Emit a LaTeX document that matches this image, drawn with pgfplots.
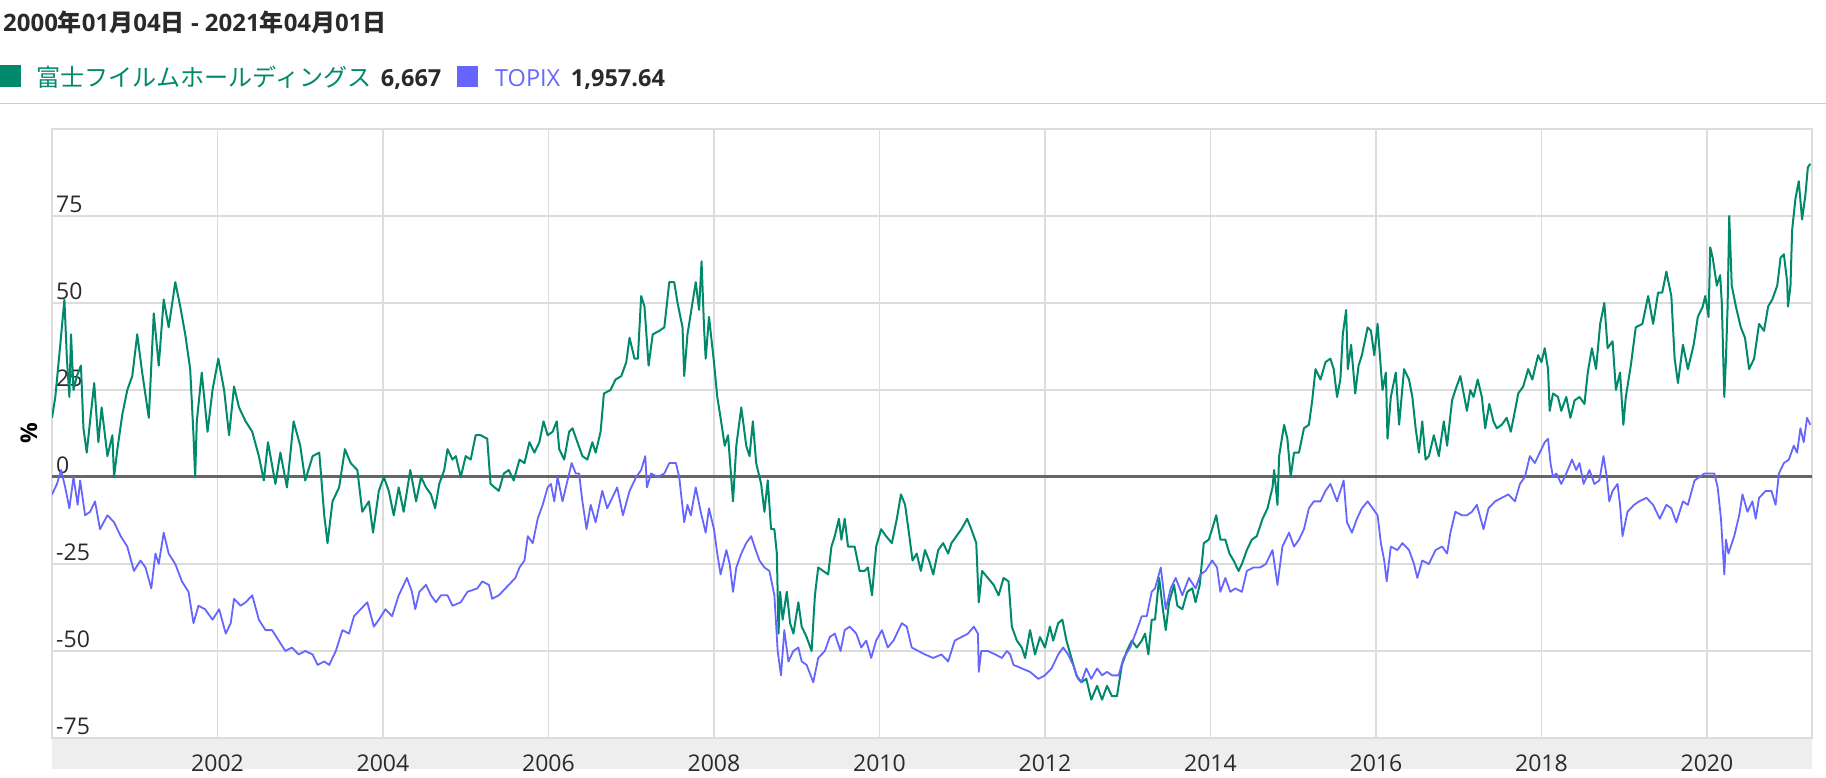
\documentclass[border=0pt]{standalone}
\usepackage{fontspec}
\setmainfont{Open Sans}
\newfontfamily\cjk{Noto Sans CJK JP}
\usepackage{pgfplots}
\pgfplotsset{compat=1.18}
\definecolor{fgreen}{HTML}{00896B}
\definecolor{tblue}{HTML}{6666FF}
\definecolor{gridc}{HTML}{DCDCDC}
\definecolor{zeroc}{HTML}{666666}
\definecolor{bandc}{HTML}{EEEEEE}
\definecolor{txt}{HTML}{2A2A2A}
\definecolor{sepc}{HTML}{CCCCCC}
\begin{document}
\begin{tikzpicture}
\useasboundingbox (0pt,0pt) rectangle (1826pt,777pt);
% title
\node[anchor=base west, inner sep=0pt, text=txt, font=\fontsize{24}{28}\selectfont\bfseries] at (3pt,745pt) {2000{\cjk\bfseries 年}01{\cjk\bfseries 月}04{\cjk\bfseries 日} - 2021{\cjk\bfseries 年}04{\cjk\bfseries 月}01{\cjk\bfseries 日}};
% legend
\fill[fgreen] (0pt,690pt) rectangle (21pt,712pt);
\node[anchor=base west, inner sep=0pt, text=fgreen, font=\fontsize{24.1}{28}\cjk] at (36pt,690.3pt) {富士フイルムホールディングス};
\node[anchor=base west, inner sep=0pt, text=txt, font=\fontsize{23.5}{28}\selectfont\bfseries] at (380.7pt,690.3pt) {6,667};
\fill[tblue] (456.7pt,689.7pt) rectangle (478.3pt,711.3pt);
\node[anchor=base west, inner sep=0pt, text=tblue, font=\fontsize{23.5}{28}\selectfont] at (495pt,690.3pt) {TOPIX};
\node[anchor=base west, inner sep=0pt, text=txt, font=\fontsize{23.5}{28}\selectfont\bfseries] at (570.7pt,690.3pt) {1,957.64};
\draw[sepc, line width=1.5pt] (0pt,673.7pt) -- (1826pt,673.7pt);
% band
\fill[bandc] (52pt,8pt) rectangle (1812pt,39pt);
% y label
\node[rotate=90, inner sep=0pt, text=black, font=\fontsize{23}{27}\selectfont\bfseries] at (29pt,344pt) {\%};
\begin{axis}[
  at={(52pt,39pt)}, anchor=south west, scale only axis,
  width=1760pt, height=609pt,
  xmin=2000, xmax=2021.27, ymin=-75, ymax=100,
  axis line style={gridc, line width=1.5pt},
  major tick length=0pt,
  grid=major,
  major grid style={gridc, line width=1.5pt},
  xtick={2002,2004,2006,2008,2010,2012,2014,2016,2018,2020},
  xticklabels={2002,2004,2006,2008,2010,2012,2014,2016,2018,2020},
  ytick={-75,-50,-25,0,25,50,75},
  yticklabels={-75,-50,-25,0,25,50,75},
  extra y ticks={0},
  extra y tick labels={},
  extra y tick style={grid=major, major grid style={zeroc, line width=3pt}},
  xticklabel style={anchor=base, inner sep=0pt, yshift=-33.7pt, font=\fontsize{23}{27}\selectfont, text=txt},
  yticklabel style={anchor=base west, inner sep=0pt, xshift=4pt, yshift=3.5pt, font=\fontsize{23}{27}\selectfont, text=txt},
]
\addplot[fgreen, line width=2pt, line join=round] coordinates {
(2000.00,17) (2000.04,23) (2000.10,38) (2000.15,51) (2000.18,34) (2000.21,23) (2000.23,41) (2000.26,25) (2000.30,29) (2000.35,32)
(2000.38,14) (2000.42,7) (2000.46,16) (2000.51,27) (2000.56,10) (2000.60,20) (2000.67,6) (2000.73,12) (2000.75,0) (2000.79,8)
(2000.85,18) (2000.91,25) (2000.97,29) (2001.03,41) (2001.09,30) (2001.17,17) (2001.23,47) (2001.29,32) (2001.35,51) (2001.41,43)
(2001.49,56) (2001.55,49) (2001.61,41) (2001.67,31) (2001.71,12) (2001.73,0) (2001.75,16) (2001.81,30) (2001.88,13) (2001.94,25)
(2002.01,34) (2002.08,25) (2002.14,12) (2002.20,26) (2002.26,20) (2002.34,16) (2002.42,13) (2002.50,6) (2002.56,-1) (2002.61,10)
(2002.70,-2) (2002.76,7) (2002.84,-3) (2002.92,16) (2003.00,9) (2003.06,-1) (2003.15,6) (2003.23,7) (2003.29,-11) (2003.33,-19)
(2003.39,-7) (2003.47,-3) (2003.54,8) (2003.61,4) (2003.69,2) (2003.75,-10) (2003.83,-7) (2003.88,-16) (2003.95,-4) (2004.01,0)
(2004.07,-4) (2004.13,-11) (2004.19,-3) (2004.25,-10) (2004.33,2) (2004.40,-7) (2004.46,0) (2004.52,-3) (2004.58,-5) (2004.63,-9)
(2004.68,-2) (2004.74,2) (2004.78,8) (2004.84,5) (2004.88,6) (2004.94,0) (2005.00,6) (2005.06,5) (2005.12,12) (2005.18,12)
(2005.26,11) (2005.30,-2) (2005.40,-4) (2005.46,1) (2005.52,2) (2005.58,-1) (2005.65,5) (2005.71,4) (2005.77,10) (2005.83,7)
(2005.89,10) (2005.94,16) (2005.99,12) (2006.05,13) (2006.10,16) (2006.13,8) (2006.19,5) (2006.25,13) (2006.29,14) (2006.35,10)
(2006.41,6) (2006.47,5) (2006.53,10) (2006.57,7) (2006.63,13) (2006.67,24) (2006.75,25) (2006.81,28) (2006.88,29) (2006.94,33)
(2006.98,40) (2007.04,34) (2007.08,34) (2007.12,52) (2007.16,49) (2007.21,32) (2007.26,41) (2007.34,42) (2007.40,43) (2007.46,56)
(2007.52,56) (2007.56,50) (2007.62,43) (2007.64,29) (2007.68,41) (2007.74,50) (2007.78,56) (2007.82,48) (2007.85,62) (2007.88,43)
(2007.90,34) (2007.94,46) (2008.00,33) (2008.04,23) (2008.08,17) (2008.13,9) (2008.17,12) (2008.23,-7) (2008.27,9) (2008.33,20)
(2008.39,9) (2008.43,6) (2008.47,16) (2008.51,4) (2008.57,-2) (2008.61,-10) (2008.65,-1) (2008.69,-15) (2008.73,-15) (2008.76,-22)
(2008.78,-45) (2008.80,-33) (2008.83,-41) (2008.88,-33) (2008.92,-42) (2008.96,-45) (2009.02,-36) (2009.06,-43) (2009.12,-46) (2009.18,-50)
(2009.22,-34) (2009.26,-26) (2009.32,-27) (2009.38,-28) (2009.42,-20) (2009.46,-17) (2009.51,-12) (2009.54,-18) (2009.58,-12) (2009.62,-20)
(2009.70,-20) (2009.76,-27) (2009.82,-27) (2009.86,-26) (2009.91,-34) (2009.96,-20) (2010.02,-15) (2010.08,-17) (2010.15,-19) (2010.21,-12)
(2010.26,-5) (2010.31,-8) (2010.35,-15) (2010.40,-24) (2010.45,-22) (2010.50,-27) (2010.55,-21) (2010.60,-24) (2010.65,-28) (2010.71,-21)
(2010.77,-19) (2010.83,-22) (2010.87,-19) (2010.93,-17) (2010.99,-15) (2011.06,-12) (2011.11,-15) (2011.17,-19) (2011.20,-36) (2011.24,-27)
(2011.31,-29) (2011.38,-31) (2011.44,-34) (2011.50,-29) (2011.56,-30) (2011.60,-43) (2011.66,-47) (2011.72,-49) (2011.76,-52) (2011.82,-44)
(2011.88,-51) (2011.94,-46) (2012.00,-49) (2012.06,-43) (2012.10,-47) (2012.16,-42) (2012.21,-41) (2012.26,-47) (2012.32,-52) (2012.38,-57)
(2012.44,-59) (2012.50,-58) (2012.56,-64) (2012.63,-60) (2012.69,-64) (2012.75,-60) (2012.81,-63) (2012.87,-63) (2012.93,-54) (2012.99,-50)
(2013.05,-47) (2013.11,-49) (2013.17,-47) (2013.21,-45) (2013.25,-51) (2013.29,-41) (2013.33,-41) (2013.38,-29) (2013.42,-37) (2013.46,-44)
(2013.50,-36) (2013.56,-31) (2013.60,-37) (2013.66,-38) (2013.72,-33) (2013.78,-32) (2013.82,-36) (2013.87,-31) (2013.92,-19) (2013.98,-18)
(2014.02,-15) (2014.07,-11) (2014.12,-18) (2014.18,-18) (2014.23,-22) (2014.28,-24) (2014.34,-27) (2014.38,-25) (2014.44,-21) (2014.50,-18)
(2014.56,-17) (2014.63,-12) (2014.69,-9) (2014.75,-3) (2014.77,2) (2014.81,-8) (2014.83,6) (2014.89,15) (2014.93,11) (2014.97,0)
(2015.01,7) (2015.07,7) (2015.13,14) (2015.19,15) (2015.23,22) (2015.27,31) (2015.33,28) (2015.39,33) (2015.45,34) (2015.49,31)
(2015.53,23) (2015.57,28) (2015.60,41) (2015.64,48) (2015.66,31) (2015.70,38) (2015.75,24) (2015.79,32) (2015.83,35) (2015.90,43)
(2015.94,42) (2015.98,35) (2016.02,44) (2016.06,31) (2016.08,25) (2016.12,30) (2016.14,11) (2016.18,23) (2016.24,30) (2016.28,15)
(2016.34,31) (2016.40,28) (2016.44,23) (2016.48,14) (2016.52,7) (2016.56,16) (2016.60,5) (2016.64,6) (2016.70,12) (2016.76,6)
(2016.82,16) (2016.86,9) (2016.92,22) (2016.96,25) (2017.02,29) (2017.06,24) (2017.10,19) (2017.14,25) (2017.18,23) (2017.23,28)
(2017.28,23) (2017.32,14) (2017.37,21) (2017.42,16) (2017.46,14) (2017.52,15) (2017.58,17) (2017.63,13) (2017.68,19) (2017.72,24)
(2017.78,26) (2017.84,31) (2017.89,28) (2017.96,35) (2018.00,33) (2018.04,37) (2018.08,31) (2018.10,19) (2018.14,24) (2018.20,23)
(2018.24,19) (2018.30,23) (2018.35,17) (2018.40,22) (2018.46,23) (2018.52,21) (2018.56,30) (2018.61,37) (2018.66,31) (2018.71,44)
(2018.76,50) (2018.80,37) (2018.86,39) (2018.90,25) (2018.95,30) (2018.99,15) (2019.02,23) (2019.08,32) (2019.14,43) (2019.22,44)
(2019.29,52) (2019.35,44) (2019.41,53) (2019.46,53) (2019.51,59) (2019.57,52) (2019.61,34) (2019.65,27) (2019.71,38) (2019.77,31)
(2019.84,38) (2019.89,46) (2019.95,49) (2019.98,52) (2020.02,46) (2020.04,66) (2020.07,63) (2020.12,55) (2020.16,58) (2020.18,50)
(2020.21,23) (2020.23,34) (2020.25,49) (2020.27,75) (2020.30,55) (2020.35,49) (2020.41,43) (2020.46,40) (2020.51,31) (2020.57,34)
(2020.63,44) (2020.69,42) (2020.74,49) (2020.79,51) (2020.85,55) (2020.89,63) (2020.93,64) (2020.97,56) (2020.98,49) (2021.01,55)
(2021.03,71) (2021.07,80) (2021.11,85) (2021.15,74) (2021.19,81) (2021.22,89) (2021.25,90)
};
\addplot[tblue, line width=1.8pt, line join=round] coordinates {
(2000.00,-5) (2000.06,-2) (2000.11,2) (2000.16,-3) (2000.21,-9) (2000.26,0) (2000.31,-8) (2000.34,-1) (2000.40,-11) (2000.46,-10)
(2000.52,-7) (2000.58,-15) (2000.67,-11) (2000.75,-13) (2000.83,-17) (2000.91,-20) (2000.99,-27) (2001.07,-24) (2001.13,-26) (2001.20,-32)
(2001.25,-22) (2001.29,-25) (2001.35,-16) (2001.41,-22) (2001.49,-25) (2001.57,-30) (2001.65,-33) (2001.71,-42) (2001.77,-37) (2001.85,-38)
(2001.94,-41) (2002.02,-38) (2002.10,-45) (2002.16,-42) (2002.20,-35) (2002.28,-37) (2002.34,-36) (2002.42,-34) (2002.50,-41) (2002.58,-44)
(2002.66,-44) (2002.74,-47) (2002.82,-50) (2002.90,-49) (2002.98,-51) (2003.06,-50) (2003.15,-51) (2003.21,-54) (2003.29,-53) (2003.35,-54)
(2003.43,-50) (2003.51,-44) (2003.59,-45) (2003.65,-40) (2003.73,-38) (2003.81,-36) (2003.89,-43) (2003.95,-41) (2004.03,-38) (2004.11,-40)
(2004.19,-34) (2004.29,-29) (2004.35,-33) (2004.39,-38) (2004.44,-33) (2004.52,-31) (2004.58,-34) (2004.64,-36) (2004.70,-34) (2004.78,-34)
(2004.84,-37) (2004.94,-36) (2005.02,-33) (2005.14,-32) (2005.20,-30) (2005.28,-31) (2005.32,-35) (2005.40,-34) (2005.48,-32) (2005.60,-29)
(2005.65,-26) (2005.71,-24) (2005.75,-17) (2005.81,-19) (2005.87,-12) (2005.93,-8) (2005.99,-3) (2006.03,-2) (2006.07,-7) (2006.11,0)
(2006.17,-7) (2006.21,-3) (2006.28,4) (2006.33,1) (2006.37,1) (2006.41,-7) (2006.46,-15) (2006.51,-8) (2006.57,-13) (2006.65,-4)
(2006.71,-9) (2006.77,-6) (2006.83,-3) (2006.90,-11) (2006.98,-4) (2007.06,0) (2007.12,2) (2007.17,6) (2007.19,-3) (2007.24,1)
(2007.32,0) (2007.40,1) (2007.46,4) (2007.54,4) (2007.58,0) (2007.64,-13) (2007.68,-8) (2007.72,-11) (2007.78,-3) (2007.84,-10)
(2007.90,-16) (2007.94,-9) (2008.00,-15) (2008.04,-22) (2008.08,-28) (2008.15,-21) (2008.19,-25) (2008.23,-33) (2008.27,-26) (2008.33,-22)
(2008.39,-19) (2008.45,-17) (2008.49,-20) (2008.55,-24) (2008.61,-26) (2008.67,-27) (2008.73,-34) (2008.77,-50) (2008.81,-57) (2008.85,-44)
(2008.90,-53) (2008.96,-50) (2009.02,-49) (2009.06,-53) (2009.12,-54) (2009.20,-59) (2009.26,-52) (2009.34,-50) (2009.40,-46) (2009.46,-45)
(2009.53,-50) (2009.58,-44) (2009.64,-43) (2009.72,-45) (2009.78,-49) (2009.84,-47) (2009.90,-52) (2009.96,-47) (2010.03,-44) (2010.10,-49)
(2010.17,-47) (2010.27,-42) (2010.33,-43) (2010.39,-49) (2010.47,-50) (2010.55,-51) (2010.65,-52) (2010.75,-51) (2010.83,-53) (2010.91,-47)
(2010.99,-46) (2011.07,-45) (2011.14,-43) (2011.19,-45) (2011.20,-56) (2011.23,-50) (2011.31,-50) (2011.40,-51) (2011.48,-52) (2011.54,-50)
(2011.58,-51) (2011.62,-54) (2011.72,-55) (2011.82,-56) (2011.92,-58) (2012.00,-57) (2012.08,-55) (2012.16,-51) (2012.22,-49) (2012.28,-51)
(2012.34,-54) (2012.40,-58) (2012.44,-59) (2012.50,-55) (2012.56,-58) (2012.63,-55) (2012.69,-57) (2012.75,-56) (2012.81,-57) (2012.89,-57)
(2012.95,-52) (2013.03,-49) (2013.11,-44) (2013.17,-40) (2013.23,-40) (2013.29,-33) (2013.33,-32) (2013.40,-26) (2013.46,-38) (2013.52,-32)
(2013.58,-29) (2013.66,-34) (2013.74,-29) (2013.82,-32) (2013.88,-28) (2013.94,-27) (2014.02,-24) (2014.08,-26) (2014.12,-33) (2014.18,-29)
(2014.24,-33) (2014.30,-32) (2014.38,-33) (2014.44,-27) (2014.52,-26) (2014.60,-26) (2014.67,-25) (2014.75,-21) (2014.81,-31) (2014.87,-20)
(2014.95,-16) (2015.01,-20) (2015.07,-18) (2015.13,-15) (2015.19,-9) (2015.25,-7) (2015.33,-7) (2015.39,-4) (2015.45,-2) (2015.53,-7)
(2015.61,-1) (2015.65,-13) (2015.71,-16) (2015.77,-12) (2015.83,-9) (2015.90,-7) (2015.96,-9) (2016.02,-11) (2016.06,-19) (2016.10,-24)
(2016.13,-30) (2016.18,-20) (2016.26,-21) (2016.32,-19) (2016.40,-21) (2016.46,-25) (2016.50,-29) (2016.56,-24) (2016.64,-25) (2016.72,-21)
(2016.80,-20) (2016.86,-22) (2016.90,-16) (2016.96,-10) (2017.04,-11) (2017.10,-11) (2017.16,-10) (2017.22,-8) (2017.30,-15) (2017.36,-9)
(2017.44,-7) (2017.52,-6) (2017.60,-5) (2017.68,-7) (2017.74,-2) (2017.80,0) (2017.86,6) (2017.92,4) (2017.98,7) (2018.04,10)
(2018.08,11) (2018.11,4) (2018.14,0) (2018.18,1) (2018.24,-2) (2018.30,1) (2018.37,5) (2018.42,2) (2018.46,4) (2018.51,-2)
(2018.58,2) (2018.64,-2) (2018.70,-1) (2018.75,6) (2018.79,0) (2018.82,-7) (2018.86,-4) (2018.92,-2) (2018.95,-8) (2018.98,-17)
(2019.04,-10) (2019.12,-8) (2019.18,-7) (2019.27,-6) (2019.35,-8) (2019.43,-12) (2019.51,-8) (2019.57,-9) (2019.63,-13) (2019.71,-7)
(2019.77,-8) (2019.85,-1) (2019.91,0) (2019.97,1) (2020.03,1) (2020.09,1) (2020.13,-3) (2020.17,-12) (2020.21,-28) (2020.23,-18)
(2020.26,-22) (2020.33,-17) (2020.39,-11) (2020.43,-5) (2020.49,-10) (2020.55,-7) (2020.59,-12) (2020.63,-6) (2020.71,-4) (2020.78,-4)
(2020.83,-8) (2020.87,1) (2020.93,4) (2020.99,5) (2021.05,9) (2021.09,7) (2021.13,14) (2021.17,10) (2021.21,17) (2021.25,15)
};
\end{axis}
\end{tikzpicture}
\end{document}
